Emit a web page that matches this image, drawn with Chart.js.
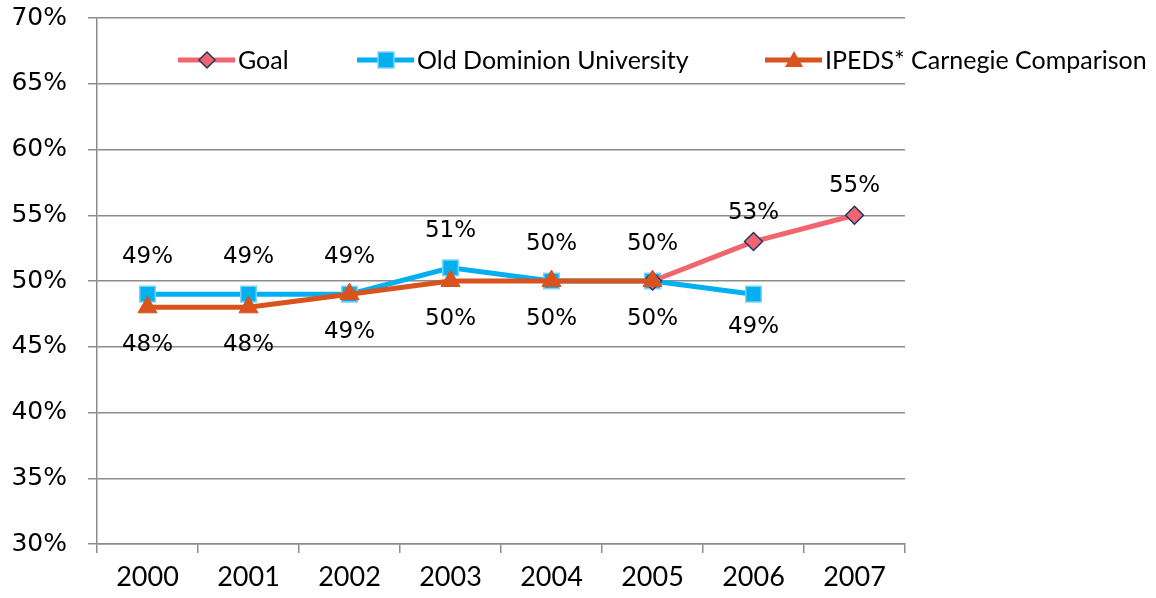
<!DOCTYPE html>
<html lang="en">
<head>
  <meta charset="UTF-8">
  <title>Graduation rate</title>
  <script src="https://cdn.jsdelivr.net/npm/chart.js"></script>
  <style>
    body { margin: 0; padding: 0; background: #fff; }
    #wrap { position: relative; width: 1156px; height: 598px; }
  </style>
</head>
<body>
  <div id="wrap">
    <canvas id="chart"></canvas>
  </div>
  <script>
    // data
    const years = ['2000', '2001', '2002', '2003', '2004', '2005', '2006', '2007'];
    const goal = [null, null, null, null, null, 50, 53, 55];
    const odu = [49, 49, 49, 51, 50, 50, 49, null];
    const ipeds = [48, 48, 49, 50, 50, 50, null, null];
    const seriesNames = ['Goal', 'Old Dominion University', 'IPEDS* Carnegie Comparison'];

    const colGoal = '#f2656f';
    const colOdu = '#00b0f0';
    const colIpeds = '#d9531e';

    // labels: which points get a label and where (above / below)
    const labelSkip = { 0: [5] };
    const labelOffset = { 0: -29, 1: -37, 2: 38 };
    const belowOdu = [6];

    const valueLabels = {
      id: 'valueLabels',
      afterDatasetsDraw(chart) {
        const ctx = chart.ctx;
        ctx.save();
        ctx.font = '23px "DejaVu Sans"';
        ctx.fillStyle = '#000';
        ctx.textAlign = 'center';
        ctx.textBaseline = 'middle';
        chart.data.datasets.forEach((ds, i) => {
          const meta = chart.getDatasetMeta(i);
          meta.data.forEach((pt, j) => {
            const v = ds.data[j];
            if (v == null) return;
            if (labelSkip[i] && labelSkip[i].includes(j)) return;
            let off = labelOffset[i];
            if (i == 1 && belowOdu.includes(j)) off = 33;
            ctx.fillText(v + '%', pt.x, pt.y + off);
          });
        });
        ctx.restore();
      }
    };

    // legend drawn inside the plot, like the original
    const innerLegend = {
      id: 'innerLegend',
      afterDraw(chart) {
        const ctx = chart.ctx;
        const items = [
          { x: 178, color: colGoal, shape: 'diamond' },
          { x: 357, color: colOdu, shape: 'square' },
          { x: 765, color: colIpeds, shape: 'triangle' }
        ];
        const y = 60;
        ctx.save();
        items.forEach((it, k) => {
          ctx.strokeStyle = it.color;
          ctx.lineWidth = 5;
          ctx.beginPath();
          ctx.moveTo(it.x, y);
          ctx.lineTo(it.x + 57, y);
          ctx.stroke();
          const cx = it.x + 29;
          ctx.beginPath();
          if (it.shape == 'diamond') {
            ctx.moveTo(cx, y - 8); ctx.lineTo(cx + 8, y); ctx.lineTo(cx, y + 8); ctx.lineTo(cx - 8, y); ctx.closePath();
            ctx.fillStyle = colGoal; ctx.fill();
            ctx.lineWidth = 1.5; ctx.strokeStyle = '#1f3864'; ctx.stroke();
          } else if (it.shape == 'square') {
            ctx.rect(cx - 8, y - 8, 16, 16);
            ctx.fillStyle = colOdu; ctx.fill();
            ctx.lineWidth = 1.5; ctx.strokeStyle = '#7fd3f2'; ctx.stroke();
          } else {
            ctx.moveTo(cx, y - 9); ctx.lineTo(cx + 9, y + 7); ctx.lineTo(cx - 9, y + 7); ctx.closePath();
            ctx.fillStyle = colIpeds; ctx.fill();
          }
          ctx.fillStyle = '#000';
          ctx.font = '25px Lato';
          ctx.textAlign = 'left';
          ctx.textBaseline = 'middle';
          ctx.fillText(seriesNames[k], it.x + 60, y + 1);
        });
        ctx.restore();
      }
    };

    new Chart(document.getElementById('chart'), {
      type: 'line',
      data: {
        labels: years,
        datasets: [
          {
            label: seriesNames[0],
            data: goal,
            borderColor: colGoal,
            backgroundColor: colGoal,
            borderWidth: 5,
            pointStyle: 'rectRot',
            pointRadius: 9,
            pointBorderColor: '#1f3864',
            pointBorderWidth: 1.5,
            pointBackgroundColor: colGoal,
            order: 1
          },
          {
            label: seriesNames[1],
            data: odu,
            borderColor: colOdu,
            backgroundColor: colOdu,
            borderWidth: 5,
            pointStyle: 'rect',
            pointRadius: 11,
            pointBorderColor: '#7fd3f2',
            pointBorderWidth: 1.5,
            pointBackgroundColor: colOdu,
            order: 2
          },
          {
            label: seriesNames[2],
            data: ipeds,
            borderColor: colIpeds,
            backgroundColor: colIpeds,
            borderWidth: 5,
            pointStyle: 'triangle',
            pointRadius: 11,
            pointBorderColor: colIpeds,
            pointBorderWidth: 1,
            pointBackgroundColor: colIpeds,
            order: 0
          }
        ]
      },
      options: {
        responsive: true,
        maintainAspectRatio: false,
        animation: false,
        layout: { padding: { top: 18, right: 251, left: 0, bottom: 0 } },
        plugins: {
          legend: { display: false },
          tooltip: { enabled: false }
        },
        scales: {
          x: {
            offset: true,
            grid: {
              offset: true,
              drawOnChartArea: false,
              tickLength: 9,
              color: '#8c8c8c',
              lineWidth: 1.5
            },
            border: { color: '#8c8c8c', width: 1.5 },
            ticks: {
              color: '#000',
              font: { family: 'Lato', size: 27 },
              padding: 8
            },
            afterFit(s) { s.height = 54; s.paddingLeft = 0; s.paddingRight = 0; }
          },
          y: {
            min: 30,
            max: 70,
            ticks: {
              stepSize: 5,
              color: '#000',
              font: { family: '"DejaVu Sans"', size: 25 },
              padding: 21,
              callback: v => v + '%'
            },
            grid: { color: '#8c8c8c', lineWidth: 1.5, tickLength: 9 },
            border: { color: '#8c8c8c', width: 1.5 },
            afterFit(s) { s.width = 97; s.paddingTop = 0; s.paddingBottom = 0; }
          }
        }
      },
      plugins: [valueLabels, innerLegend]
    });
  </script>
</body>
</html>
